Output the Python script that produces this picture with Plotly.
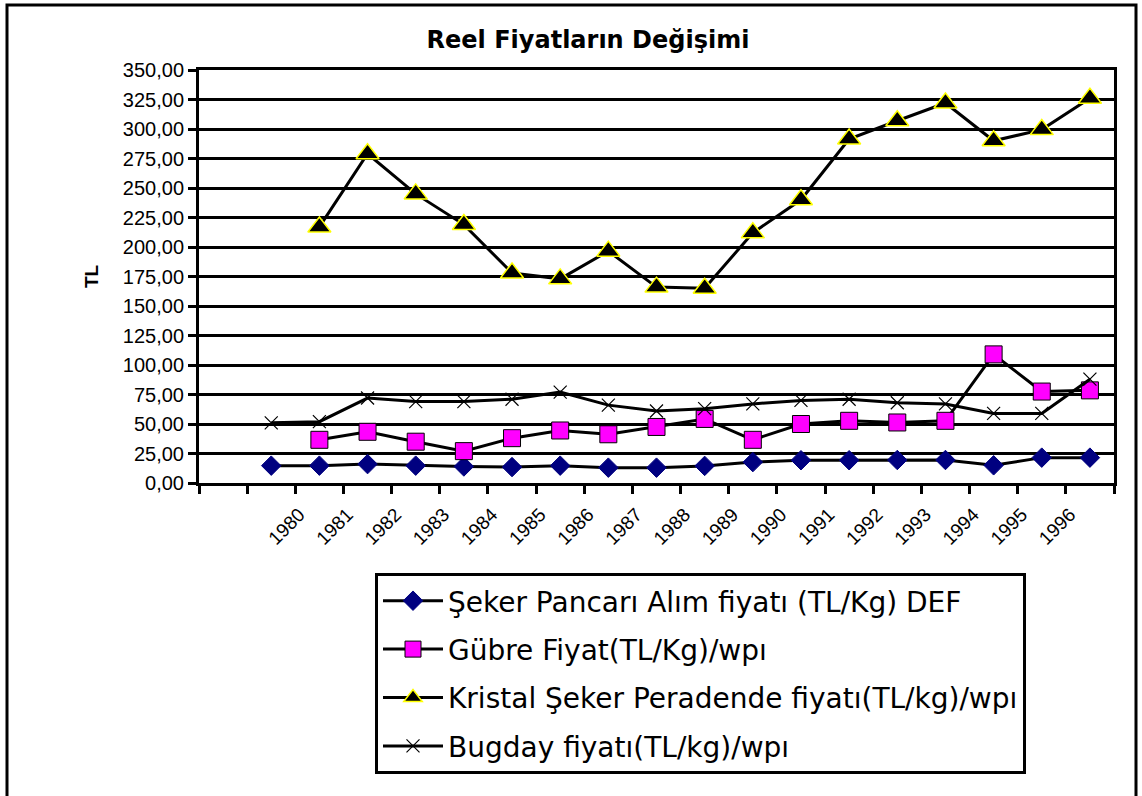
import plotly.graph_objects as go

# ---------------- data ----------------
chart_title = "Reel Fiyatların Değişimi"
y_title = "TL"

# category tick labels shown under the axis
year_labels = ["1980", "1981", "1982", "1983", "1984", "1985", "1986", "1987", "1988",
               "1989", "1990", "1991", "1992", "1993", "1994", "1995", "1996"]

# years for the series that start one category earlier (unlabelled first slot)
years_long = [1979, 1980, 1981, 1982, 1983, 1984, 1985, 1986, 1987, 1988,
              1989, 1990, 1991, 1992, 1993, 1994, 1995, 1996]
years_short = [1980, 1981, 1982, 1983, 1984, 1985, 1986, 1987, 1988,
               1989, 1990, 1991, 1992, 1993, 1994, 1995, 1996]

seker_pancari = [14.7, 14.7, 16.0, 14.7, 14.0, 13.5, 14.7, 13.0, 13.0,
                 14.5, 17.7, 19.3, 19.3, 19.5, 19.5, 15.0, 21.5, 21.5]
gubre = [36.6, 43.4, 35.0, 27.0, 38.0, 44.5, 41.3, 47.5, 54.3,
         36.6, 50.0, 52.7, 51.3, 52.7, 109.0, 77.5, 78.5]
kristal_seker = [217.0, 279.0, 245.0, 219.0, 178.0, 173.0, 196.5, 166.0, 165.0,
                 212.0, 240.0, 291.5, 307.0, 322.0, 290.0, 299.5, 326.0]
bugday = [51.0, 52.0, 72.0, 69.0, 69.0, 71.0, 77.0, 66.0, 61.0,
          63.0, 67.0, 70.0, 71.0, 68.0, 67.0, 59.0, 59.0, 88.0]

series_names = [
    "Şeker Pancarı Alım fiyatı (TL/Kg) DEF",
    "Gübre Fiyat(TL/Kg)/wpı",
    "Kristal Şeker Peradende fiyatı(TL/kg)/wpı",
    "Bugday fiyatı(TL/kg)/wpı",
]

# category slots: each year occupies [year, year+1]; points sit in the middle
first_slot, last_slot = 1978, 1997
xl = [y + 0.5 for y in years_long]
xs = [y + 0.5 for y in years_short]

# ---------------- figure ----------------
fig = go.Figure()
line_style = dict(color="black", width=3)

fig.add_trace(go.Scatter(
    x=xl, y=seker_pancari, mode="lines+markers", name=series_names[0],
    line=line_style, legendgroup="g1",
    marker=dict(symbol="diamond", size=15, color="#000080",
                line=dict(color="#000080", width=1))))
fig.add_trace(go.Scatter(
    x=xs, y=gubre, mode="lines+markers", name=series_names[1],
    line=line_style, legendgroup="g2",
    marker=dict(symbol="square", size=17, color="#FF00FF",
                line=dict(color="black", width=1))))
fig.add_trace(go.Scatter(
    x=xs, y=kristal_seker, mode="lines+markers", name=series_names[2],
    line=line_style, legendgroup="g3",
    marker=dict(symbol="triangle-up", size=20, color="black",
                line=dict(color="#FFFF00", width=1.5))))
fig.add_trace(go.Scatter(
    x=xl, y=bugday, mode="lines+markers", name=series_names[3],
    line=line_style, legendgroup="g4",
    marker=dict(symbol="x-thin", size=13, color="black",
                line=dict(color="black", width=1.2))))

W, H = 1142, 796
ml, mr, mt, mb = 199, 28, 70, 313
pw, ph = W - ml - mr, H - mt - mb

fig.update_layout(
    width=W, height=H,
    separators=",.",
    paper_bgcolor="white", plot_bgcolor="white",
    margin=dict(l=ml, r=mr, t=mt, b=mb, pad=0, autoexpand=False),
    title=dict(text=chart_title, x=588 / W, xref="container", xanchor="center",
               y=1 - 40 / H, yref="container", yanchor="middle",
               font=dict(family="DejaVu Sans", size=24, color="black", weight="bold")),
    xaxis=dict(range=[first_slot, last_slot], tickmode="array",
               tickvals=xs, ticktext=year_labels, tickangle=-45, ticks="",
               ticklabelshift=-20, ticklabelstandoff=10,
               tickfont=dict(family="Liberation Sans", size=19, color="black"),
               showline=True, linecolor="black", linewidth=3, mirror=True,
               showgrid=False, zeroline=False, automargin=False,
               minor=dict(tickmode="linear", tick0=first_slot, dtick=1,
                          ticks="outside", ticklen=8, tickwidth=3,
                          tickcolor="black", showgrid=False)),
    yaxis=dict(range=[0, 350], tick0=0, dtick=25, tickformat=".2f",
               ticks="outside", ticklen=8, tickwidth=3, tickcolor="black",
               tickfont=dict(family="Liberation Sans", size=20, color="black"),
               showline=True, linecolor="black", linewidth=3, mirror=True,
               showgrid=True, gridcolor="black", gridwidth=3, zeroline=False,
               automargin=False,
               title=dict(text=y_title, standoff=20,
                          font=dict(family="Liberation Sans", size=19,
                                    color="black", weight="bold"))),
    legend=dict(x=(375 - ml) / pw, y=(H - mb - 573) / ph,
                xanchor="left", yanchor="top", bgcolor="white",
                bordercolor="black", borderwidth=3, tracegroupgap=9,
                itemwidth=60,
                font=dict(family="DejaVu Sans", size=28, color="black")),
    showlegend=True,
    shapes=[dict(type="rect", xref="paper", yref="paper",
                 x0=(7 - ml) / pw, x1=(1136 - ml) / pw,
                 y0=(H - mb - 805) / ph, y1=(H - mb - 5) / ph,
                 line=dict(color="black", width=3), fillcolor="rgba(0,0,0,0)",
                 layer="below")],
)

fig.write_html("out.html", config={"displayModeBar": False},
               post_script="document.body.style.margin='0';")
